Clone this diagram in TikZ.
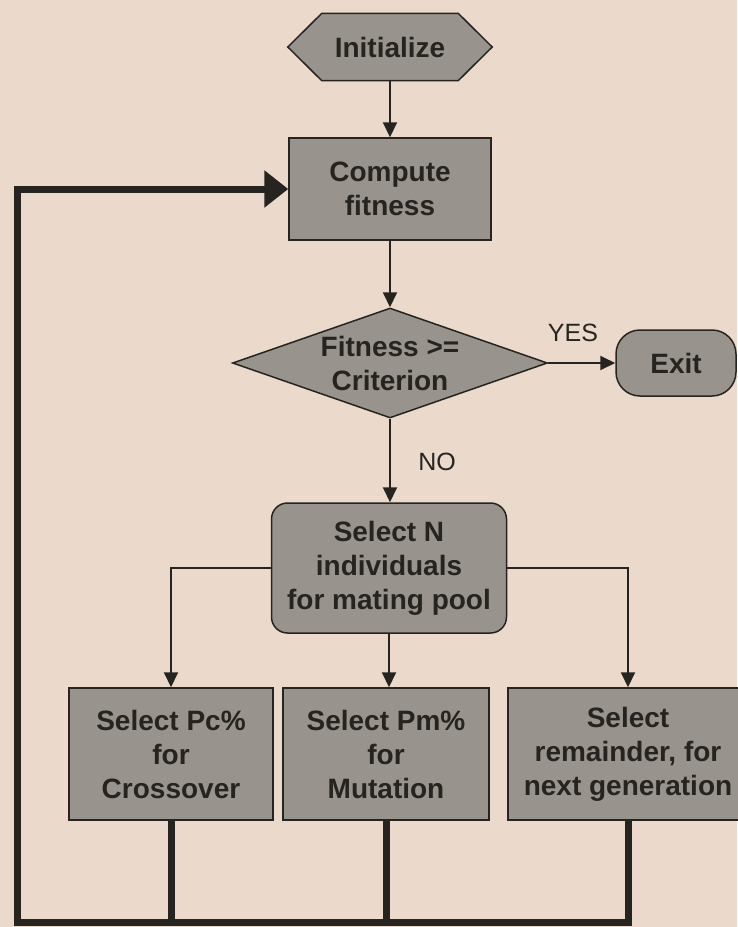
\documentclass[tikz,border=0pt]{standalone}
\usepackage{fontspec}
\setmainfont{Liberation Sans}
\usetikzlibrary{shapes.geometric,arrows.meta,backgrounds,calc}
\definecolor{bg}{HTML}{EBDACB}
\definecolor{boxfill}{HTML}{98938C}
\definecolor{ink}{HTML}{262420}
\begin{document}
\begin{tikzpicture}[x=1pt,y=1pt,
  every node/.style={text=ink},
  boxbase/.style={fill=boxfill, draw=ink, line width=1.5pt, align=center,
    font=\bfseries\fontsize{28}{34}\selectfont, inner sep=0pt},
  rectbox/.style={boxbase, rectangle},
  conn/.style={draw=ink, line width=2pt, -{Triangle[length=15pt,width=14pt]}},
  fb/.style={draw=ink, line width=7pt, line join=miter},
  lbl/.style={font=\fontsize{25}{30}\selectfont, inner sep=0pt}
]
\begin{scope}[on background layer]
  \fill[bg] (0,0) rectangle (737,-927);
\end{scope}
\useasboundingbox (0,0) rectangle (737,-927);

% Initialize (hexagon)
\node[font=\bfseries\fontsize{28}{34}\selectfont, minimum width=204pt, minimum height=67pt, inner sep=0pt] (init) at (390,-47) {Initialize};
\begin{scope}[on background layer]
  \filldraw[fill=boxfill, draw=ink, line width=1.5pt]
    (init.west) -- ([xshift=34pt]init.north west) -- ([xshift=-34pt]init.north east)
    -- (init.east) -- ([xshift=-34pt]init.south east) -- ([xshift=34pt]init.south west) -- cycle;
\end{scope}

\node[rectbox, minimum width=202pt, minimum height=102pt] (comp) at (390,-189) {Compute\\fitness};

\node[boxbase, diamond, aspect=2.86, minimum width=315pt, minimum height=110pt] (fit) at (390,-363) {Fitness >=\\Criterion};

\node[boxbase, rounded corners=24pt, minimum width=120pt, minimum height=66pt] (exit) at (676,-363) {Exit};

\node[boxbase, rounded corners=16pt, minimum width=235pt, minimum height=130pt] (sel) at (389,-568) {Select N\\individuals\\for mating pool};

\node[rectbox, minimum width=204pt, minimum height=132pt] (b1) at (171,-754) {Select Pc\%\\for\\Crossover};
\node[rectbox, minimum width=206pt, minimum height=132pt] (b2) at (386,-754) {Select Pm\%\\for\\Mutation};
\node[rectbox, minimum width=240pt, minimum height=132pt] (b3) at (628,-754) {Select\\remainder, for\\next generation};

\node[lbl] (yes) at (573,-333) {YES};
\node[lbl] (no) at (437,-462) {NO};

% connectors
\draw[conn] (init) -- (comp);
\draw[conn] (comp) -- (fit);
\draw[conn] (fit.east) -- (exit.west);
\draw[conn] (fit.south) -- (fit.south |- sel.north);
\draw[conn] (sel.west) -| (b1.north);
\draw[conn] (sel.south) -- (sel.south |- b2.north);
\draw[conn] (sel.east) -| (b3.north);

% feedback loop
\coordinate (lb) at (17,-922);
\draw[fb] (b1.south) -- (b1.south |- lb);
\draw[fb] (b2.south) -- (b2.south |- lb);
\draw[fb, -{Triangle[length=24pt,width=36pt]}] (b3.south) |- (lb) |- (comp.west);
\end{tikzpicture}
\end{document}
